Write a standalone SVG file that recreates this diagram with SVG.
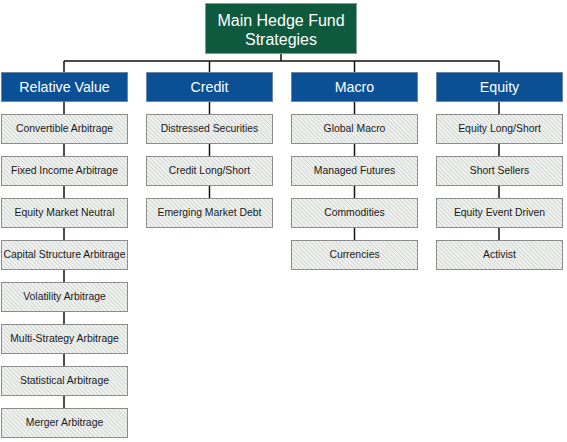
<svg xmlns="http://www.w3.org/2000/svg" width="567" height="442" viewBox="0 0 567 442">
<defs>
<pattern id="hatch" patternUnits="userSpaceOnUse" width="3" height="3" patternTransform="rotate(-45)">
<rect width="3" height="3" fill="#f1f3f1"/>
<rect width="1" height="3" fill="#d2d6d2"/>
</pattern>
<style>
.top{fill:#0f5a3e;stroke:#8a9a90;stroke-width:1}
.cat{fill:#0b4f95;stroke:#6a86a8;stroke-width:1}
.sub{fill:url(#hatch);stroke:#8c8c8c;stroke-width:1}
.tt{font-family:"Liberation Sans",Arial,sans-serif;font-size:16px;fill:#ffffff;text-anchor:middle}
.ct{font-family:"Liberation Sans",Arial,sans-serif;font-size:14.2px;fill:#ffffff;text-anchor:middle}
.st{font-family:"Liberation Sans",Arial,sans-serif;font-size:10.4px;fill:#1a1a1a;text-anchor:middle}
.ln{stroke:#111;stroke-width:1.5;fill:none}
</style>
</defs>
<rect width="567" height="442" fill="#ffffff"/>
<g id="connectors">
<path class="ln" d="M281 53V61M64 61H499M64 61V72M209.5 61V72M354.5 61V72M499 61V72"/>
<path class="ln" d="M64 102V408"/>
<path class="ln" d="M209.5 102V198"/>
<path class="ln" d="M354.5 102V240"/>
<path class="ln" d="M499 102V240"/>
</g>
<g id="root"><rect class="top" x="205.5" y="3.5" width="151" height="50"/><text class="tt" x="281" y="25.5">Main Hedge Fund</text><text class="tt" x="281" y="44.5">Strategies</text></g>
<g id="cat-rv"><rect class="cat" x="1.5" y="72.5" width="126" height="29"/><text class="ct" x="64.5" y="91.5">Relative Value</text></g>
<g id="cat-credit"><rect class="cat" x="146.5" y="72.5" width="126" height="29"/><text class="ct" x="209.5" y="91.5">Credit</text></g>
<g id="cat-macro"><rect class="cat" x="291.5" y="72.5" width="126" height="29"/><text class="ct" x="354.5" y="91.5">Macro</text></g>
<g id="cat-equity"><rect class="cat" x="436.5" y="72.5" width="126" height="29"/><text class="ct" x="499.5" y="91.5">Equity</text></g>
<g id="rv1"><rect class="sub" x="1.5" y="114.5" width="126" height="29"/><text class="st" x="64.5" y="132">Convertible Arbitrage</text></g>
<g id="rv2"><rect class="sub" x="1.5" y="156.5" width="126" height="29"/><text class="st" x="64.5" y="174">Fixed Income Arbitrage</text></g>
<g id="rv3"><rect class="sub" x="1.5" y="198.5" width="126" height="29"/><text class="st" x="64.5" y="216">Equity Market Neutral</text></g>
<g id="rv4"><rect class="sub" x="1.5" y="240.5" width="126" height="29"/><text class="st" x="64.5" y="258">Capital Structure Arbitrage</text></g>
<g id="rv5"><rect class="sub" x="1.5" y="282.5" width="126" height="29"/><text class="st" x="64.5" y="300">Volatility Arbitrage</text></g>
<g id="rv6"><rect class="sub" x="1.5" y="324.5" width="126" height="29"/><text class="st" x="64.5" y="342">Multi-Strategy Arbitrage</text></g>
<g id="rv7"><rect class="sub" x="1.5" y="366.5" width="126" height="29"/><text class="st" x="64.5" y="384">Statistical Arbitrage</text></g>
<g id="rv8"><rect class="sub" x="1.5" y="408.5" width="126" height="29"/><text class="st" x="64.5" y="426">Merger Arbitrage</text></g>
<g id="cr1"><rect class="sub" x="146.5" y="114.5" width="126" height="29"/><text class="st" x="209.5" y="132">Distressed Securities</text></g>
<g id="cr2"><rect class="sub" x="146.5" y="156.5" width="126" height="29"/><text class="st" x="209.5" y="174">Credit Long/Short</text></g>
<g id="cr3"><rect class="sub" x="146.5" y="198.5" width="126" height="29"/><text class="st" x="209.5" y="216">Emerging Market Debt</text></g>
<g id="ma1"><rect class="sub" x="291.5" y="114.5" width="126" height="29"/><text class="st" x="354.5" y="132">Global Macro</text></g>
<g id="ma2"><rect class="sub" x="291.5" y="156.5" width="126" height="29"/><text class="st" x="354.5" y="174">Managed Futures</text></g>
<g id="ma3"><rect class="sub" x="291.5" y="198.5" width="126" height="29"/><text class="st" x="354.5" y="216">Commodities</text></g>
<g id="ma4"><rect class="sub" x="291.5" y="240.5" width="126" height="29"/><text class="st" x="354.5" y="258">Currencies</text></g>
<g id="eq1"><rect class="sub" x="436.5" y="114.5" width="126" height="29"/><text class="st" x="499.5" y="132">Equity Long/Short</text></g>
<g id="eq2"><rect class="sub" x="436.5" y="156.5" width="126" height="29"/><text class="st" x="499.5" y="174">Short Sellers</text></g>
<g id="eq3"><rect class="sub" x="436.5" y="198.5" width="126" height="29"/><text class="st" x="499.5" y="216">Equity Event Driven</text></g>
<g id="eq4"><rect class="sub" x="436.5" y="240.5" width="126" height="29"/><text class="st" x="499.5" y="258">Activist</text></g>
</svg>
